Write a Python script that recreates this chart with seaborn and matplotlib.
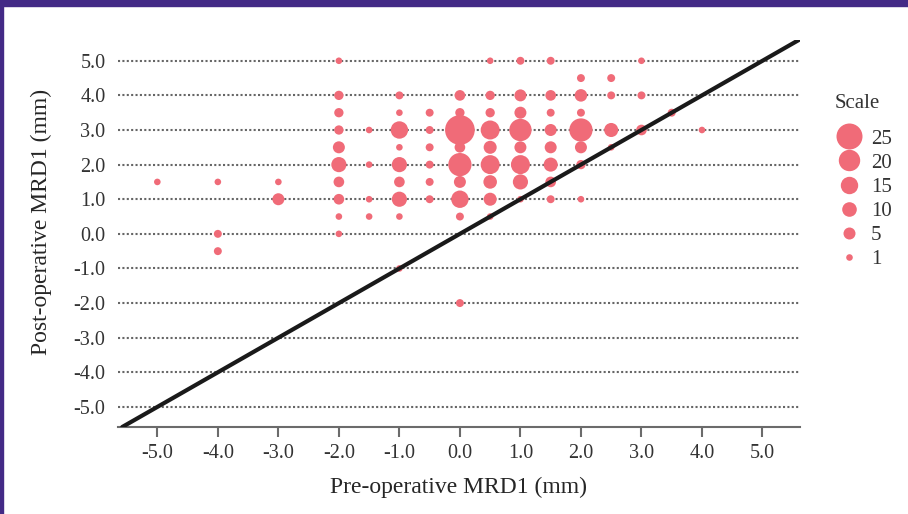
import numpy as np
import pandas as pd
import matplotlib
matplotlib.use("Agg")
import matplotlib.pyplot as plt
from matplotlib.lines import Line2D
from matplotlib.patches import Rectangle
import seaborn as sns

# ---- data (pre-operative MRD1, post-operative MRD1, number of eyes) ----
pre = [-5.0,
       -4.0, -4.0, -4.0,
       -3.0, -3.0,
       -2.0, -2.0, -2.0, -2.0, -2.0, -2.0, -2.0, -2.0, -2.0, -2.0,
       -1.5, -1.5, -1.5, -1.5,
       -1.0, -1.0, -1.0, -1.0, -1.0, -1.0, -1.0, -1.0, -1.0,
       -0.5, -0.5, -0.5, -0.5, -0.5, -0.5,
       0.0, 0.0, 0.0, 0.0, 0.0, 0.0, 0.0, 0.0, 0.0,
       0.5, 0.5, 0.5, 0.5, 0.5, 0.5, 0.5, 0.5, 0.5,
       1.0, 1.0, 1.0, 1.0, 1.0, 1.0, 1.0, 1.0,
       1.5, 1.5, 1.5, 1.5, 1.5, 1.5, 1.5, 1.5,
       2.0, 2.0, 2.0, 2.0, 2.0, 2.0, 2.0,
       2.5, 2.5, 2.5, 2.5,
       3.0, 3.0, 3.0,
       3.5,
       4.0]
post = [1.5,
        1.5, 0.0, -0.5,
        1.5, 1.0,
        5.0, 4.0, 3.5, 3.0, 2.5, 2.0, 1.5, 1.0, 0.5, 0.0,
        3.0, 2.0, 1.0, 0.5,
        4.0, 3.5, 3.0, 2.5, 2.0, 1.5, 1.0, 0.5, -1.0,
        3.5, 3.0, 2.5, 2.0, 1.5, 1.0,
        4.0, 3.5, 3.0, 2.5, 2.0, 1.5, 1.0, 0.5, -2.0,
        5.0, 4.0, 3.5, 3.0, 2.5, 2.0, 1.5, 1.0, 0.5,
        5.0, 4.0, 3.5, 3.0, 2.5, 2.0, 1.5, 1.0,
        5.0, 4.0, 3.5, 3.0, 2.5, 2.0, 1.5, 1.0,
        4.5, 4.0, 3.5, 3.0, 2.5, 2.0, 1.0,
        4.5, 4.0, 3.0, 2.5,
        5.0, 4.0, 3.0,
        3.5,
        3.0]
count = [1,
         1, 2, 2,
         1, 5,
         1, 3, 3, 3, 5, 11, 4, 4, 1, 1,
         1, 1, 1, 1,
         2, 1, 15, 1, 11, 4, 11, 1, 1,
         2, 2, 2, 2, 2, 2,
         4, 3, 29, 4, 22, 5, 15, 2, 2,
         1, 3, 3, 17, 7, 17, 8, 7, 1,
         2, 5, 5, 21, 5, 17, 11, 1,
         2, 4, 2, 5, 5, 9, 4, 2,
         2, 6, 2, 22, 5, 3, 1,
         2, 2, 9, 1,
         1, 2, 4,
         2,
         1]

legend_values = [25, 20, 15, 10, 5, 1]
tick_values = [-5.0, -4.0, -3.0, -2.0, -1.0, 0.0, 1.0, 2.0, 3.0, 4.0, 5.0]

# size scale (count -> marker radius in px)
knot_counts = [1, 5, 10, 15, 20, 25, 30]
knot_radius = [3.3, 6.0, 7.3, 8.7, 10.7, 13.0, 15.3]

DPI = 100
W, H = 908, 514


def area_pt2(n):
    r_px = np.interp(n, knot_counts, knot_radius)
    d_pt = 2 * r_px * 72.0 / DPI
    return d_pt ** 2


df = pd.DataFrame({"pre": pre, "post": post, "n": count})
size_map = {v: area_pt2(v) for v in sorted(set(count))}

BUBBLE = "#F06B78"
PURPLE = "#432A86"
TXT = "#333333"
LBL = "#262626"
AXIS = "#6b6b6b"

sns.set_theme(style="white")
plt.rcParams["font.family"] = ["Liberation Serif", "DejaVu Serif"]

fig = plt.figure(figsize=(W / DPI, H / DPI), dpi=DPI)
ax = fig.add_axes([118 / W, 1 - 427 / H, (800 - 118) / W, (427 - 40) / H])

ax.set_xlim(-5.65, 5.62)
ax.set_ylim(-5.58, 5.6)

# dotted horizontal grid
for t in tick_values:
    ax.axhline(t, color="#666666", lw=1.5, ls=(0, (1, 1.1)), zorder=1)

sns.scatterplot(data=df, x="pre", y="post", size="n", sizes=size_map,
                color=BUBBLE, linewidth=0, alpha=1, legend=False, ax=ax, zorder=3)

# identity line
ax.axline((0, 0), slope=1, color="#1a1a1a", lw=3.0, zorder=4)

ax.set_xticks(tick_values)
ax.set_yticks(tick_values)
ax.set_xticklabels([f"{v:.1f}" for v in tick_values])
ax.set_yticklabels([f"{v:.1f}" for v in tick_values])
ax.tick_params(axis="x", length=7.2, width=1.5, color=AXIS, pad=5,
               labelsize=14.5, labelcolor=TXT, bottom=True)
ax.tick_params(axis="y", length=0, pad=9, labelsize=14.5, labelcolor=TXT)

for s in ["top", "right", "left"]:
    ax.spines[s].set_visible(False)
ax.spines["bottom"].set_color(AXIS)
ax.spines["bottom"].set_linewidth(1.5)

ax.set_xlabel("Pre-operative MRD1 (mm)", fontsize=17, color=LBL, labelpad=10)
ax.set_ylabel("Post-operative MRD1 (mm)", fontsize=17, color=LBL)
ax.yaxis.set_label_coords((52 - 118) / (800 - 118), (427 - 222) / (427 - 40))
ax.grid(False)

# legend
fig.text(835 / W, 1 - 103 / H, "Scale", fontsize=15, color=TXT,
         ha="left", va="center")
handles = [Line2D([], [], ls="", marker="o", markersize=np.sqrt(area_pt2(v)),
                  markerfacecolor=BUBBLE, markeredgewidth=0) for v in legend_values]
leg = fig.legend(handles, [str(v) for v in legend_values],
                 loc="upper left", bbox_to_anchor=(836.5 / W, 1 - 129 / H),
                 frameon=False, fontsize=15, borderpad=0,
                 labelspacing=0.22, handlelength=1.2, handletextpad=0.45,
                 borderaxespad=0, labelcolor=TXT)

# purple frame
fig.patches.append(Rectangle((0, 1 - 6 / H), 1, 6 / H, transform=fig.transFigure,
                             color=PURPLE, zorder=10))
fig.patches.append(Rectangle((0, 0), 2.5 / W, 1, transform=fig.transFigure,
                             color=PURPLE, zorder=10))

fig.savefig("out.png", dpi=DPI)
